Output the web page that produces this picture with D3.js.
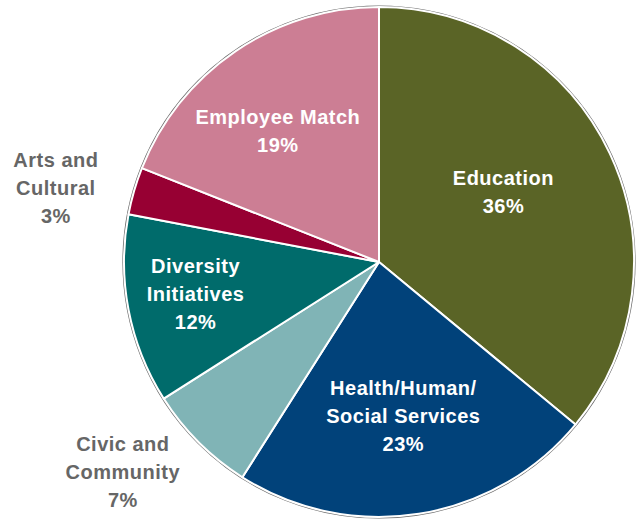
<!DOCTYPE html>
<html>
<head>
<meta charset="utf-8">
<script src="https://cdn.jsdelivr.net/npm/d3@7"></script>
<style>
  html, body { margin: 0; padding: 0; background: #fff; }
  svg { display: block; }
</style>
</head>
<body>
<svg id="chart" width="637" height="519"></svg>
<script>
// Giving by category, share of total (%)
const categories = ["Education", "Health/Human/\nSocial Services", "Civic and\nCommunity", "Diversity\nInitiatives", "Arts and\nCultural", "Employee Match"];
const values = [36, 23, 7, 12, 3, 19];
const colors = ["#5a6426", "#01427a", "#80b4b6", "#006b6b", "#970033", "#cc7e94"];
// Labels for the two thin slices sit outside the pie
const outside = [false, false, true, false, true, false];

// Label placement: radius as a fraction of the pie radius, and angular nudge (degrees)
const labelRadius = [0.56, 0.61, 1.30, 0.73, 1.30, 0.65];
const labelNudge = [-4.2, 0, 5.6, 1, -3.3, -3.4];

const svg = d3.select("#chart");
const cx = 379, cy = 262, r = 255;
const g = svg.append("g").attr("transform", `translate(${cx},${cy})`);

const pie = d3.pie().sort(null).value(d => d.value);
const data = categories.map((c, i) => ({ name: c, value: values[i], color: colors[i], out: outside[i], i }));
const arcs = pie(data);

const arc = d3.arc().innerRadius(0).outerRadius(r);

// outer rim
g.append("circle").attr("r", r + 0.5).attr("fill", "none")
  .attr("stroke", "#6a6a6a").attr("stroke-width", 2.2);

g.selectAll("path.slice").data(arcs).enter().append("path")
  .attr("class", "slice")
  .attr("d", arc)
  .attr("fill", d => d.data.color)
  .attr("stroke", "#fff")
  .attr("stroke-width", 2)
  .attr("stroke-linejoin", "round");

const lineH = 28;

arcs.forEach(d => {
  const i = d.data.i;
  const a = (d.startAngle + d.endAngle) / 2 + labelNudge[i] * Math.PI / 180;
  const rr = r * labelRadius[i];
  const x = rr * Math.sin(a), y = -rr * Math.cos(a);
  const lines = d.data.name.split("\n").concat([d3.format(".0f")(d.data.value) + "%"]);
  const t = g.append("text")
    .attr("text-anchor", "middle")
    .attr("font-family", "'Liberation Sans', Arial, Helvetica, sans-serif")
    .attr("font-weight", "bold")
    .attr("font-size", 20)
    .attr("letter-spacing", 0.5)
    .attr("fill", d.data.out ? "#666666" : "#ffffff");
  const y0 = y - (lines.length - 1) * lineH / 2;
  lines.forEach((ln, k) => {
    t.append("tspan").attr("x", x).attr("y", y0 + k * lineH).attr("dy", "0.35em").text(ln);
  });
});
</script>
</body>
</html>
